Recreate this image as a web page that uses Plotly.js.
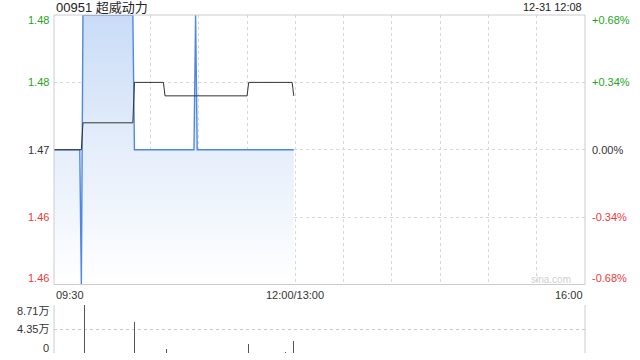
<!DOCTYPE html>
<html><head><meta charset="utf-8">
<script src="https://cdn.plot.ly/plotly-3.0.1.min.js"></script>
<style>html,body{margin:0;padding:0;background:#fff}#chart{width:640px;height:360px}</style>
</head><body><div id="chart"></div>
<script>
// ---- data ----
const stockTitle = "00951 超威动力";
const stampText = "12-31 12:08";
const prevClose = 1.47;

const priceTimes  = ["09:30","09:46","09:47","09:48","10:19","10:20","10:57","10:58","10:59","11:59"];
const priceValues = [1.47, 1.47, 1.46, 1.48, 1.48, 1.47, 1.47, 1.48, 1.47, 1.47];

const avgTimes  = ["09:30","09:47","09:48","10:19","10:20","10:38","10:39","11:30","11:31","11:58","11:59"];
const avgValues = [1.47, 1.47, 1.472, 1.472, 1.475, 1.475, 1.474, 1.474, 1.475, 1.475, 1.474];

const volTimes  = ["09:49","10:20","10:40","11:31","11:54","11:59"];
const volValues = [87100, 56400, 7800, 16800, 1000, 22200];

const priceTickVals  = [1.48, 1.475, 1.47, 1.465, 1.46];
const priceTickText  = ["1.48", "1.48", "1.47", "1.46", "1.46"];
const pctTickText    = ["+0.68%", "+0.34%", "0.00%", "-0.34%", "-0.68%"];
const volTickVals    = [87100, 43550, 0];
const volTickText    = ["8.71万", "4.35万", "0"];
const timeTickVals   = ["09:30","12:00","16:00"];
const timeTickText   = ["09:30","12:00/13:00","16:00"];

// ---- helpers ----
function toMin(t){
  const [h,m] = t.split(":").map(Number);
  let v = h*60 + m - 570;
  if (h*60+m >= 780) v -= 60;
  return v;
}
const GREEN = "#1ea51e", RED = "#f03a3a", GREY = "#333";
function colorFor(v){ return v > prevClose + 1e-9 ? GREEN : (v < prevClose - 1e-9 ? RED : GREY); }

const fontMain = "Liberation Sans, Arial, sans-serif";
const mainBottom = (353-284.5)/338;
const volTop = (353-305)/338;

const traces = [
  {
    x: priceTimes.map(toMin), y: priceValues, type: "scatter", mode: "lines",
    line: {color: "#4f88e4", width: 1.4},
    fill: "tozeroy",
    fillgradient: {type: "vertical", start: 1.46, stop: 1.48,
      colorscale: [[0, "rgba(255,255,255,1)"], [0.5, "rgba(229,238,251,1)"], [1, "rgba(201,220,247,1)"]]},
    xaxis: "x", yaxis: "y", hoverinfo: "skip"
  },
  {
    x: avgTimes.map(toMin), y: avgValues, type: "scatter", mode: "lines",
    line: {color: "#333333", width: 1},
    xaxis: "x", yaxis: "y", hoverinfo: "skip"
  },
  {
    x: volTimes.map(toMin), y: volValues, type: "bar", width: 0.7,
    marker: {color: "#555555", line: {width: 0}},
    xaxis: "x2", yaxis: "y2", hoverinfo: "skip"
  }
];

const annotations = [];
priceTickVals.forEach((v, i) => {
  const shift = i === 0 ? -5 : (i === priceTickVals.length-1 ? 7 : 0);
  annotations.push({xref:"paper", yref:"y", x:0, y:v, xanchor:"right", yanchor:"middle", xshift:-3, yshift:shift,
    text: priceTickText[i], showarrow:false, font:{family:fontMain, size:11, color:colorFor(v)}});
  annotations.push({xref:"paper", yref:"y", x:1, y:v, xanchor:"left", yanchor:"middle", xshift:5, yshift:shift,
    text: pctTickText[i], showarrow:false, font:{family:fontMain, size:11, color:colorFor(v)}});
});
volTickVals.forEach((v, i) => {
  const shift = i === 0 ? -6 : (i === volTickVals.length-1 ? 5 : 0);
  annotations.push({xref:"paper", yref:"y2", x:0, y:v, xanchor:"right", yanchor:"middle", xshift:-3, yshift:shift,
    text: volTickText[i], showarrow:false, font:{family:fontMain+", Noto Sans CJK SC", size:11, color:"#333"}});
});
timeTickVals.forEach((t, i) => {
  annotations.push({xref:"x", yref:"paper", x:toMin(t), y:mainBottom, yanchor:"top", yshift:-2,
    xanchor: i === 0 ? "left" : (i === timeTickVals.length-1 ? "right" : "center"),
    text: timeTickText[i], showarrow:false, font:{family:fontMain, size:11, color:"#333"}});
});
annotations.push({xref:"paper", yref:"paper", x:0, y:1, xanchor:"left", yanchor:"middle", yshift:8, xshift:0,
  text: stockTitle, showarrow:false, font:{family:fontMain+", Noto Sans CJK SC", size:13, color:"#222"}});
annotations.push({xref:"paper", yref:"paper", x:1, y:1, xanchor:"right", yanchor:"middle", yshift:8, xshift:-1,
  text: stampText, showarrow:false, font:{family:fontMain, size:11, color:"#222"}});
annotations.push({xref:"paper", yref:"paper", x:1, y:mainBottom, xanchor:"right", yanchor:"bottom", xshift:-12, yshift:-2,
  text: "sina.com", showarrow:false, font:{family:fontMain, size:10, color:"#d0d0d0"}});

const gridTicks = [];
for (let m = 30; m < 330; m += 30) gridTicks.push(m);

const layout = {
  width: 640, height: 360,
  margin: {l: 54, r: 55, t: 15, b: 7},
  paper_bgcolor: "#fff", plot_bgcolor: "#fff",
  showlegend: false,
  xaxis: {domain:[0,1], range:[0,330], tickvals: gridTicks, showticklabels:false, ticks:"",
    showgrid:true, gridcolor:"#d9d9d9", griddash:"dot", gridwidth:1, zeroline:false,
    showline:false, anchor:"y", fixedrange:true},
  yaxis: {domain:[mainBottom,1], range:[1.46,1.48], tickvals: priceTickVals, showticklabels:false, ticks:"",
    showgrid:true, gridcolor:"#d9d9d9", griddash:"dot", gridwidth:1, zeroline:false, showline:false, fixedrange:true},
  xaxis2: {domain:[0,1], range:[0,330], showticklabels:false, ticks:"", showgrid:false, zeroline:false,
    showline:false, anchor:"y2", fixedrange:true},
  yaxis2: {domain:[0,volTop], range:[0,87100], tickvals: volTickVals, showticklabels:false, ticks:"",
    showgrid:true, gridcolor:"#c8c8c8", griddash:"dot", gridwidth:1, zeroline:false, showline:false, fixedrange:true},
  bargap: 0,
  annotations: annotations,
  shapes: [
    {type:"rect", xref:"paper", yref:"paper", x0:0, x1:1, y0:mainBottom, y1:1, line:{color:"#cccccc", width:1}, layer:"above"},
    {type:"line", xref:"paper", yref:"paper", x0:0, x1:0, y0:0, y1:volTop, line:{color:"#cccccc", width:1}},
    {type:"line", xref:"paper", yref:"paper", x0:1, x1:1, y0:0, y1:volTop, line:{color:"#cccccc", width:1}}
  ]
};

Plotly.newPlot("chart", traces, layout, {displayModeBar:false, staticPlot:true});
</script></body></html>
